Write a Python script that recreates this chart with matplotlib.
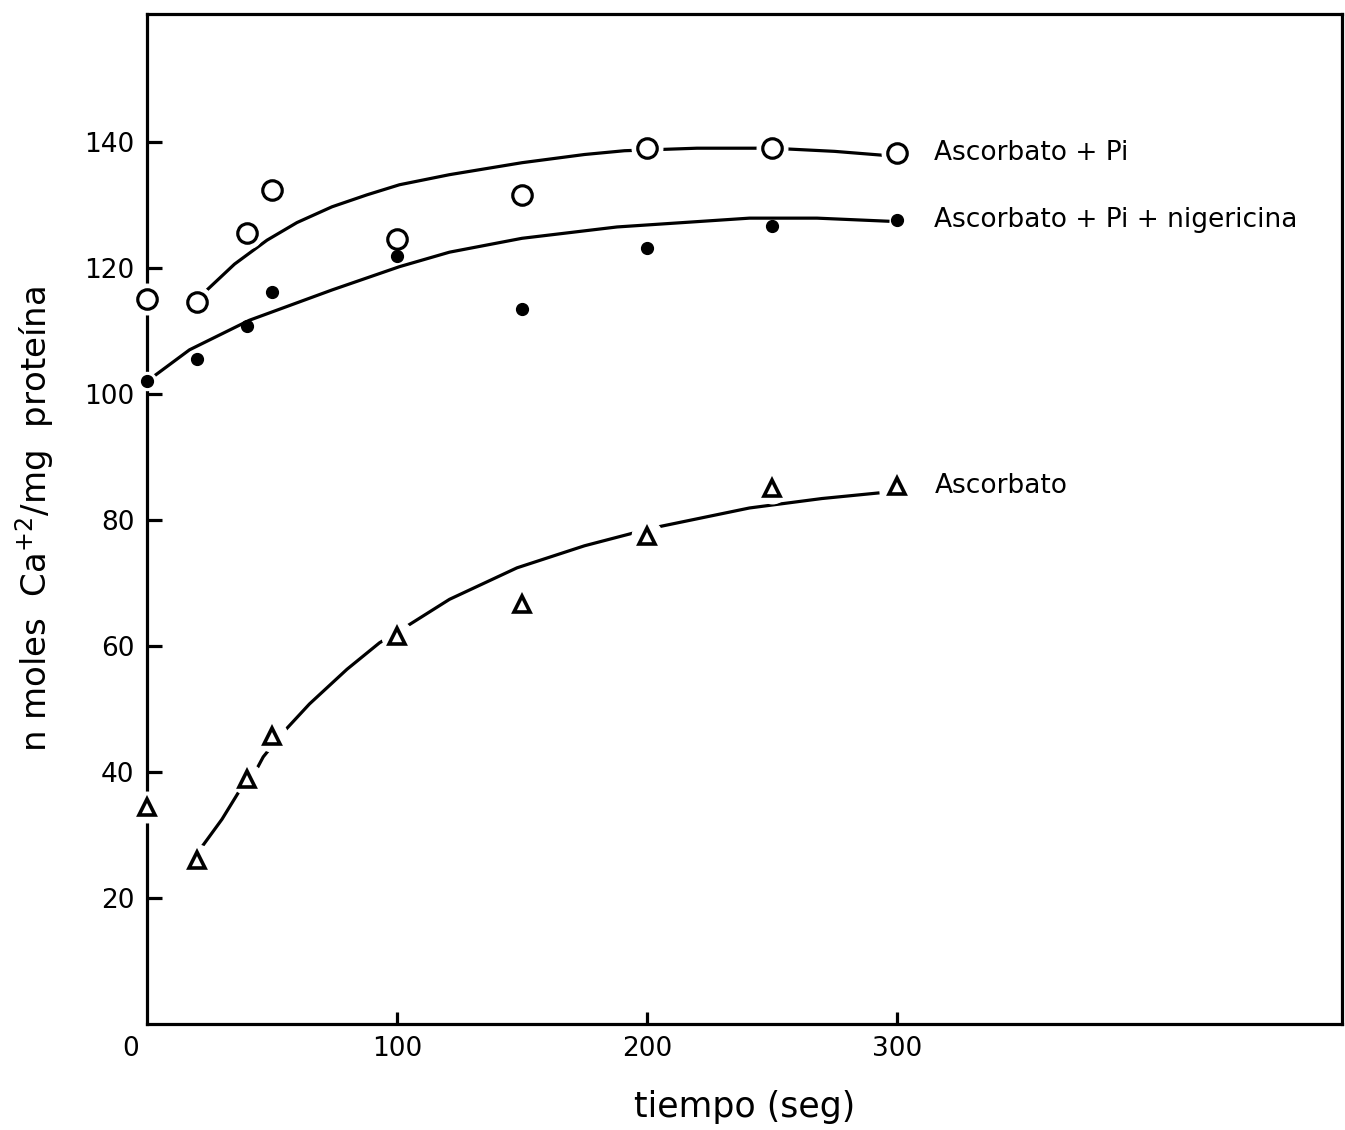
import matplotlib
matplotlib.use("Agg")
import matplotlib.pyplot as plt

# ---- data ----
t = [0, 20, 40, 50, 100, 150, 200, 250, 300]
asc_pi = [115.1, 114.6, 125.6, 132.4, 124.6, 131.6, 139.0, 139.0, 138.3]
asc_pi_nig = [102.1, 105.6, 110.8, 116.2, 121.9, 113.5, 123.2, 126.7, 127.6]
asc = [34.5, 26.0, 38.9, 45.7, 61.6, 66.7, 77.5, 85.1, 85.4]

# hand-drawn fitted curves
fit_pi_t = [24, 35, 48, 60, 74, 88, 101, 121, 150, 175, 191, 220, 250, 275, 297]
fit_pi_y = [116.5, 120.6, 124.4, 127.2, 129.7, 131.6, 133.2, 134.8, 136.7, 138.0, 138.6, 139.0, 139.0, 138.5, 137.8]
fit_nig_t = [0, 17, 41, 74, 101, 121, 150, 188, 241, 268, 297]
fit_nig_y = [102.0, 107.0, 111.7, 116.5, 120.2, 122.5, 124.7, 126.5, 127.9, 127.9, 127.4]
fit_asc_t = [21, 30, 36.5, 43, 46.5, 54.5, 65, 80, 93, 102.6, 121, 148, 175, 202, 241, 270, 293]
fit_asc_y = [27.6, 32.5, 36.7, 39.8, 42.4, 46.3, 50.8, 56.3, 60.5, 62.8, 67.4, 72.4, 75.9, 78.7, 81.9, 83.4, 84.3]

labels = ["Ascorbato + Pi", "Ascorbato + Pi + nigericina", "Ascorbato"]
xticks = [100, 200, 300]
yticks = [20, 40, 60, 80, 100, 120, 140]

plt.rcParams['font.family'] = ['DejaVu Sans']

fig = plt.figure(figsize=(13.45, 11.3), dpi=100)
ax = fig.add_axes([147/1345, 1 - 1024/1130, (1342-147)/1345, (1024-14)/1130])
ax.set_xlim(0, 478)
ax.set_ylim(0, 160.3)

lw = 2.3
for s in ax.spines.values():
    s.set_linewidth(lw)
    s.set_zorder(2.5)

# curves
for ft, fy in [(fit_pi_t, fit_pi_y), (fit_nig_t, fit_nig_y), (fit_asc_t, fit_asc_y)]:
    ax.plot(ft, fy, color='black', lw=lw, zorder=2, solid_capstyle='butt',
            solid_joinstyle='round')

# white halos giving gaps in the lines around markers
ax.plot(t, asc_pi, ls='none', marker='o', ms=22, mfc='white', mec='white', zorder=3, clip_on=False)
ax.plot(t, asc, ls='none', marker='o', ms=22, mfc='white', mec='white', zorder=3, clip_on=False)
ax.plot(t[:1], asc_pi_nig[:1], ls='none', marker='o', ms=13, mfc='white', mec='white', zorder=3, clip_on=False)

# markers
ax.plot(t, asc_pi, ls='none', marker='o', ms=14, mfc='white', mec='black', mew=2.3, zorder=4, clip_on=False)
ax.plot(t, asc_pi_nig, ls='none', marker='o', ms=8.5, mfc='black', mec='black', zorder=4, clip_on=False)
ax.plot(t, asc, ls='none', marker='^', ms=11, mfc='white', mec='black', mew=2.6, zorder=4, clip_on=False)

# series labels
for y, lab in zip([asc_pi[-1], asc_pi_nig[-1], asc[-1]], labels):
    ax.text(315, y, lab, fontsize=19, va='center', ha='left')

ax.set_xticks(xticks)
ax.set_xticklabels([str(v) for v in xticks])
ax.set_yticks(yticks)
ax.set_yticklabels([str(v) for v in yticks])
ax.tick_params(axis='y', direction='in', length=11, width=lw, labelsize=19, pad=9)
ax.tick_params(axis='x', direction='in', length=9, width=lw, labelsize=19, pad=9)
ax.annotate("0", xy=(0, 0), xytext=(-12, -9), textcoords='offset points',
            fontsize=19, ha='center', va='top')

ax.set_xlabel("tiempo (seg)", fontsize=25, labelpad=20)
ax.set_ylabel("n moles  Ca$^{+2}$/mg  proteína", fontsize=24.5, labelpad=20)

fig.savefig("out.png", dpi=100)
